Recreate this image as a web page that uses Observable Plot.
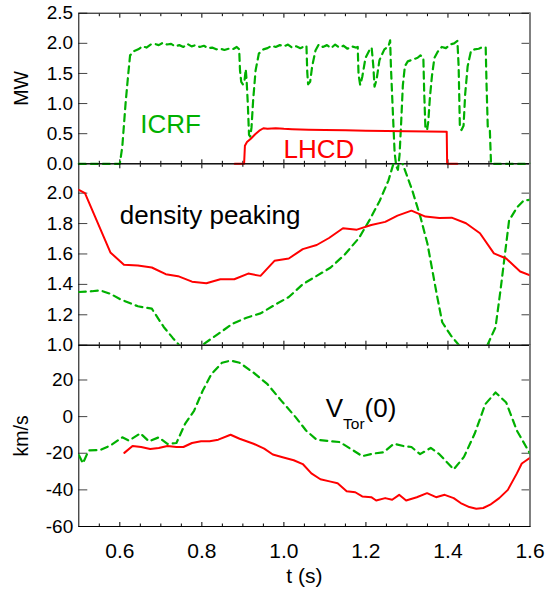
<!DOCTYPE html>
<html><head><meta charset="utf-8">
<script src="https://cdn.jsdelivr.net/npm/d3@7"></script>
<script src="https://cdn.jsdelivr.net/npm/@observablehq/plot@0.6"></script>
<style>
body{margin:0;background:#fff;}
#chart{position:relative;width:551px;height:593px;font-family:"Liberation Sans",Arial,sans-serif;}
#chart svg{position:absolute;left:0;top:0;overflow:visible;}
</style></head><body><div id="chart"></div>
<script>
// ---------- data ----------
const icrfT = [0.50,0.600,0.606,0.614,0.620,0.625,0.635,0.645,0.655,0.665,0.675,0.685,0.695,0.705,0.715,0.725,0.735,0.745,0.755,0.765,0.775,0.785,0.795,0.805,0.815,0.825,0.835,0.845,0.855,0.865,0.875,0.885,0.891,0.893,0.896,0.900,0.904,0.907,0.909,0.912,0.915,0.918,0.921,0.925,0.931,0.939,0.950,0.960,0.970,0.980,0.990,1.000,1.010,1.020,1.030,1.040,1.050,1.055,1.057,1.059,1.064,1.069,1.077,1.085,1.095,1.105,1.115,1.125,1.135,1.145,1.155,1.165,1.175,1.180,1.182,1.186,1.191,1.199,1.208,1.214,1.218,1.221,1.226,1.233,1.245,1.255,1.259,1.261,1.266,1.270,1.274,1.278,1.282,1.286,1.290,1.295,1.302,1.310,1.318,1.326,1.333,1.340,1.342,1.345,1.349,1.352,1.356,1.361,1.367,1.375,1.385,1.395,1.405,1.415,1.423,1.426,1.429,1.433,1.438,1.442,1.448,1.456,1.465,1.475,1.485,1.492,1.494,1.497,1.502,1.505,1.60];
const icrfP = [0,0,0.28,1.00,1.45,1.80,1.87,1.90,1.95,1.93,1.98,1.99,1.97,2.01,1.98,1.99,1.95,1.97,1.94,1.99,1.95,1.97,1.94,1.96,1.92,1.93,1.90,1.91,1.89,1.91,1.90,1.94,1.90,1.55,1.36,1.32,1.38,1.57,1.40,1.00,0.48,0.45,0.60,1.05,1.55,1.83,1.90,1.92,1.96,1.94,1.97,1.95,1.98,1.93,1.95,1.92,1.95,1.96,1.52,1.32,1.36,1.62,1.88,1.98,1.94,1.97,1.92,1.98,1.93,1.96,1.91,1.95,1.93,1.94,1.48,1.31,1.44,1.76,1.88,1.93,1.62,1.28,1.40,1.72,1.90,1.95,2.05,1.60,0.80,0.18,-0.04,-0.10,0.15,0.70,1.30,1.62,1.70,1.72,1.74,1.76,1.80,1.76,1.20,0.60,0.56,0.70,1.10,1.46,1.76,1.86,1.94,1.92,1.98,2.00,2.04,1.62,0.62,0.56,0.63,1.16,1.62,1.87,1.90,1.91,1.94,1.93,1.33,0.62,0.58,0,0];

const lhcdT = [0.880,0.903,0.905,0.910,0.920,0.930,0.940,0.950,0.960,0.980,1.000,1.020,1.040,1.060,1.100,1.150,1.200,1.250,1.300,1.350,1.397,1.398,1.423];
const lhcdP = [0,0,0.30,0.36,0.42,0.49,0.55,0.59,0.58,0.59,0.58,0.575,0.57,0.565,0.56,0.555,0.55,0.545,0.54,0.535,0.53,0,0];

const densRedT = [0.500,0.515,0.577,0.610,0.644,0.678,0.712,0.742,0.776,0.811,0.845,0.879,0.913,0.943,0.977,1.012,1.046,1.080,1.110,1.144,1.178,1.213,1.247,1.277,1.311,1.345,1.379,1.409,1.444,1.478,1.512,1.542,1.576,1.600];
const densRedV = [2.022,2.000,1.610,1.529,1.524,1.511,1.467,1.454,1.418,1.407,1.434,1.434,1.471,1.456,1.555,1.570,1.632,1.659,1.705,1.769,1.760,1.791,1.811,1.852,1.885,1.846,1.837,1.839,1.802,1.736,1.604,1.570,1.485,1.460];

const densGreenT = [0.500,0.532,0.553,0.577,0.601,0.644,0.678,0.707,0.729,0.745,0.775,0.806,0.840,0.875,0.909,0.943,0.977,1.012,1.046,1.080,1.114,1.148,1.183,1.208,1.234,1.255,1.270,1.280,1.290,1.313,1.333,1.350,1.362,1.374,1.386,1.407,1.427,1.460,1.496,1.516,1.528,1.541,1.549,1.569,1.585,1.600];
const densGreenV = [1.350,1.355,1.360,1.338,1.302,1.256,1.240,1.120,1.048,1.000,0.930,1.010,1.075,1.141,1.181,1.209,1.264,1.317,1.401,1.456,1.511,1.595,1.705,1.819,1.952,2.084,2.220,2.260,2.190,2.018,1.842,1.667,1.491,1.316,1.151,1.064,1.000,0.900,1.000,1.118,1.360,1.645,1.820,1.908,1.952,1.956];

const vtorGreenT = [0.500,0.510,0.524,0.553,0.577,0.606,0.622,0.650,0.671,0.695,0.716,0.738,0.759,0.781,0.802,0.823,0.849,0.870,0.892,0.926,0.960,0.994,1.029,1.054,1.080,1.110,1.136,1.166,1.191,1.217,1.243,1.268,1.294,1.311,1.332,1.358,1.379,1.414,1.439,1.465,1.491,1.516,1.542,1.568,1.600];
const vtorGreenV = [-21,-25.5,-18.5,-18.2,-15.8,-11.3,-13.1,-9.1,-13.5,-11.3,-14.9,-14.4,-4.0,3.2,14.1,23.1,29.4,30.6,29.4,24.0,17.7,8.6,-0.4,-7.6,-12.6,-13.3,-13.9,-18.0,-21.6,-20.2,-19.5,-14.8,-16.2,-16.6,-20.5,-17.1,-20.5,-28.8,-22.0,-9.4,6.8,13.2,7.7,-7.6,-20.2];

const vtorRedT = [0.611,0.631,0.652,0.674,0.695,0.716,0.738,0.755,0.776,0.798,0.819,0.840,0.870,0.892,0.926,0.952,0.973,0.999,1.024,1.046,1.067,1.089,1.114,1.131,1.153,1.174,1.191,1.213,1.225,1.247,1.264,1.281,1.298,1.324,1.349,1.371,1.392,1.414,1.431,1.452,1.469,1.486,1.503,1.525,1.546,1.568,1.580,1.600];
const vtorRedV = [-19.8,-16.0,-16.6,-17.7,-17.1,-16.0,-16.6,-16.6,-14.4,-13.5,-13.5,-12.6,-9.9,-12.1,-14.8,-17.5,-20.7,-22.3,-23.8,-25.9,-31.0,-34.2,-35.5,-36.4,-40.7,-41.3,-43.6,-44.0,-45.8,-44.5,-45.4,-42.7,-45.8,-44.0,-41.8,-44.0,-42.7,-44.5,-47.2,-49.4,-50.3,-49.9,-48.1,-44.5,-40.0,-31.0,-25.6,-22.5];

const xMajor = [0.6,0.8,1.0,1.2,1.4];
const xLabels = [0.6,0.8,1.0,1.2,1.4,1.6];
const xMinor = [0.55,0.65,0.7,0.75,0.85,0.9,0.95,1.05,1.1,1.15,1.25,1.3,1.35,1.45,1.5,1.55];
const mwTicks = [0.0,0.5,1.0,1.5,2.0,2.5];
const densTicks = [1.0,1.2,1.4,1.6,1.8,2.0];
const vtorTicks = [20,0,-20,-40,-60];

// ---------- layout ----------
const W = 551, H = 593, ML = 78.3, MR = 551 - 529.5;
const GREEN = "#00b000", RED = "#ff0000", FONT = "Liberation Sans, Arial, sans-serif";
const pts = (T, V) => T.map((t, i) => ({t, v: V[i]}));

function frameMarks(yTicks, yFmt) {
  const blank = () => "";
  return [
    Plot.axisY({ticks: yTicks, anchor: "left", tickSize: 0, tickPadding: 5.6, tickFormat: yFmt, fontSize: 19, label: null}),
    Plot.axisY({ticks: yTicks, anchor: "left", tickSize: -9, tickFormat: blank, label: null, stroke: "#444"}),
    Plot.axisY({ticks: yTicks, anchor: "right", tickSize: -9, tickFormat: blank, label: null, stroke: "#444"}),
    Plot.axisX({ticks: xMajor, anchor: "bottom", tickSize: -4, tickFormat: blank, label: null}),
    Plot.axisX({ticks: xMinor, anchor: "bottom", tickSize: -2.5, tickFormat: blank, label: null}),
    Plot.axisX({ticks: xMajor, anchor: "top", tickSize: -4, tickFormat: blank, label: null}),
    Plot.axisX({ticks: xMinor, anchor: "top", tickSize: -2.5, tickFormat: blank, label: null}),
    Plot.frame({stroke: "black", strokeWidth: 1}),
    Plot.ruleX([1.6], {stroke: "#808080", strokeWidth: 2})
  ];
}
const style = {background: "transparent", fontFamily: FONT, fontSize: "19px", overflow: "visible", color: "black"};
const common = (top, bottom) => ({
  width: W, height: H, marginLeft: ML, marginRight: MR, marginTop: top, marginBottom: H - bottom,
  x: {domain: [0.5, 1.6], axis: null}, style
});

// Panel 1: power
const p1 = Plot.plot({
  ...common(12.7, 163.3),
  y: {domain: [0, 2.5], axis: null},
  marks: [
    ...frameMarks(mwTicks, d3.format(".1f")),
    Plot.line(pts(icrfT, icrfP), {x: "t", y: "v", stroke: GREEN, strokeWidth: 2.2, strokeDasharray: "7,5"}),
    Plot.line(pts(lhcdT, lhcdP), {x: "t", y: "v", stroke: RED, strokeWidth: 2}),
    Plot.text([{t: 0.650, v: 0.646, s: "ICRF"}], {x: "t", y: "v", text: "s", fill: GREEN, fontSize: 26, textAnchor: "start", lineAnchor: "middle"}),
    Plot.text([{t: 0.999, v: 0.237, s: "LHCD"}], {x: "t", y: "v", text: "s", fill: RED, fontSize: 26, textAnchor: "start", lineAnchor: "middle"}),
    Plot.text(["MW"], {text: d => d, frameAnchor: "left", textAnchor: "middle", lineAnchor: "middle", rotate: -90, dx: -56.6, fontSize: 19.5, fill: "black"})
  ]
});

// Panel 2: density peaking
const p2 = Plot.plot({
  ...common(163.3, 344.7),
  y: {domain: [1.0, 2.193], axis: null},
  marks: [
    ...frameMarks(densTicks, d3.format(".1f")),
    Plot.line(pts(densGreenT, densGreenV), {x: "t", y: "v", stroke: GREEN, strokeWidth: 2.2, strokeDasharray: "7,5", clip: true}),
    Plot.line(pts(densRedT, densRedV), {x: "t", y: "v", stroke: RED, strokeWidth: 2, clip: true}),
    Plot.text([{t: 0.600, v: 1.855, s: "density peaking"}], {x: "t", y: "v", text: "s", fill: "black", fontSize: 26, textAnchor: "start", lineAnchor: "middle"})
  ]
});

// Panel 3: toroidal velocity
const p3 = Plot.plot({
  ...common(344.7, 526),
  y: {domain: [-60, 39], axis: null},
  marks: [
    ...frameMarks(vtorTicks, d => String(d)),
    Plot.axisX({ticks: xLabels, anchor: "bottom", tickSize: 0, tickPadding: 16.5, tickFormat: d3.format(".1f"), fontSize: 21, label: null}),
    Plot.line(pts(vtorGreenT, vtorGreenV), {x: "t", y: "v", stroke: GREEN, strokeWidth: 2.2, strokeDasharray: "7,5", clip: true}),
    Plot.line(pts(vtorRedT, vtorRedV), {x: "t", y: "v", stroke: RED, strokeWidth: 2, clip: true}),
    Plot.text([{t: 1.102, v: 4.5, s: "VTOR0"}], {x: "t", y: "v", text: "s", fill: "black", fontSize: 26, textAnchor: "start", lineAnchor: "middle"}),
    Plot.text(["km/s"], {text: d => d, frameAnchor: "left", textAnchor: "middle", lineAnchor: "middle", rotate: -90, dx: -56.6, fontSize: 19.5, fill: "black"}),
    Plot.text(["t (s)"], {text: d => d, frameAnchor: "bottom", textAnchor: "middle", lineAnchor: "middle", dy: 49.8, fontSize: 21, fill: "black"})
  ]
});

// subscript label V_Tor(0)
d3.select(p3).selectAll("text").filter(function() { return this.textContent === "VTOR0"; }).each(function() {
  const t = d3.select(this);
  t.text("");
  t.append("tspan").text("V");
  t.append("tspan").attr("font-size", 15.5).attr("dy", 12.3).text("Tor");
  t.append("tspan").attr("dy", -12.3).text("(0)");
});

const chart = document.getElementById("chart");
chart.append(p1, p2, p3);
</script></body></html>
